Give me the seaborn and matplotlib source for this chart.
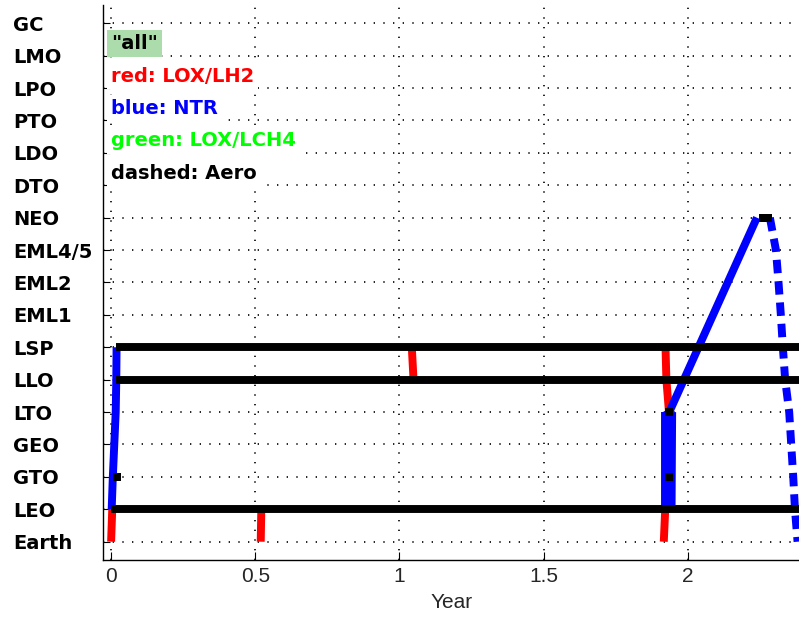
import matplotlib
matplotlib.use("Agg")
import matplotlib.pyplot as plt
import seaborn as sns

# ---------------- data ----------------
levels = ["Earth", "LEO", "GTO", "GEO", "LTO", "LLO", "LSP", "EML1", "EML2",
          "EML4/5", "NEO", "DTO", "LDO", "PTO", "LPO", "LMO", "GC"]
x_ticks = [0, 0.5, 1, 1.5, 2]
x_tick_labels = ["0", "0.5", "1", "1.5", "2"]

# LOX/LH2 legs (red)
red1_x = [0.000, 0.004]; red1_y = ["Earth", "LEO"]
red2_x = [0.519, 0.521]; red2_y = ["Earth", "LEO"]
red3_x = [1.049, 1.043]; red3_y = ["LLO", "LSP"]
red4_x = [1.917, 1.922]; red4_y = ["Earth", "LEO"]
red5_x = [1.923, 1.926, 1.935]; red5_y = ["LSP", "LLO", "LTO"]

# NTR legs (blue)
blue1_x = [0.002, 0.006, 0.011, 0.016, 0.018, 0.019]
blue1_y = ["LEO", "GTO", "GEO", "LTO", "LLO", "LSP"]
blue2_x = [1.920, 1.920]; blue2_y = ["LEO", "LTO"]
blue3_x = [1.944, 1.946]; blue3_y = ["LEO", "LTO"]
blue4_x = [1.936, 2.240]; blue4_y = ["LTO", "NEO"]

# NTR aero return (blue dashed)
aero_x = [2.285, 2.306, 2.315, 2.323, 2.330, 2.338, 2.352, 2.359, 2.366, 2.372, 2.381]
aero_y = ["NEO", "EML4/5", "EML2", "EML1", "LSP", "LLO", "LTO", "GEO", "GTO", "LEO", "Earth"]

# infrastructure stays (black)
stay_y = ["LEO", "LLO", "LSP"]
stay_x0 = [-0.001, 0.017, 0.017]
stay_x1 = [2.6, 2.6, 2.6]

# events (black squares)
mark_x = [0.020, 1.936, 1.936, 2.262, 2.279]
mark_y = ["GTO", "GTO", "LTO", "NEO", "NEO"]

# legend texts
legend_labels = ['"all"', "red: LOX/LH2", "blue: NTR", "green: LOX/LCH4", "dashed: Aero"]
legend_colors = ["black", "#ff0000", "#0000ff", "#00ff00", "black"]
legend_rows = ["LMO", "LPO", "PTO", "LDO", "DTO"]
legend_bg = ["#acdcac", "white", "white", "white", "white"]

# ---------------- plot ----------------
sns.set_theme(style="white")
plt.rcParams["font.family"] = ["DejaVu Sans"]

fig = plt.figure(figsize=(7.99, 6.19), dpi=100)
ax = fig.add_axes([0.1293, 0.0953, 0.8707, 0.8967])

idx = {name: i for i, name in enumerate(levels)}
LW = 5.7


def seg(xs, ys, color, z, **kw):
    sns.lineplot(x=xs, y=[idx[v] for v in ys], sort=False, estimator=None,
                 color=color, linewidth=LW, ax=ax, zorder=z,
                 solid_capstyle="butt", **kw)


for xs, ys in [(red1_x, red1_y), (red2_x, red2_y), (red3_x, red3_y),
               (red4_x, red4_y), (red5_x, red5_y)]:
    seg(xs, ys, "#ff0000", 2)

for xs, ys in [(blue1_x, blue1_y), (blue2_x, blue2_y), (blue3_x, blue3_y),
               (blue4_x, blue4_y)]:
    seg(xs, ys, "#0000ff", 3)

seg(aero_x, aero_y, "#0000ff", 3, linestyle=(0, (1.7, 1.0)), dash_capstyle="butt")

for y, x0, x1 in zip(stay_y, stay_x0, stay_x1):
    seg([x0, x1], [y, y], "black", 4)

sns.scatterplot(x=mark_x, y=[idx[v] for v in mark_y], marker="s", s=36,
                color="black", edgecolor="none", ax=ax, zorder=5)

for lab, col, row, bg in zip(legend_labels, legend_colors, legend_rows, legend_bg):
    ax.text(0.0, idx[row] + 0.2, lab, color=col, fontsize=14, fontweight="bold",
            ha="left", va="baseline", zorder=6,
            bbox=dict(boxstyle="square,pad=0.2", facecolor=bg, edgecolor="none"))

ax.set_xlim(-0.027, 2.386)
ax.set_ylim(-0.565, 16.565)

ax.set_yticks(range(len(levels)), levels, fontsize=14, fontweight="bold", ha="left")
ax.set_xticks(x_ticks, x_tick_labels, fontsize=15,
              family=["Liberation Sans", "DejaVu Sans"], color="#262626")
ax.tick_params(axis="y", direction="in", length=5, width=0.8, pad=65, colors="black",
               left=True)
ax.tick_params(axis="x", direction="in", length=6, width=0.8, pad=5, color="black",
               bottom=True)
ax.set_xlabel("Year", fontsize=15, family=["Liberation Sans", "DejaVu Sans"],
              color="#262626", labelpad=5)
ax.set_ylabel("")

ax.set_axisbelow(True)
ax.grid(True, linestyle=(0, (0.8, 5.0)), color="black", linewidth=1.2)

sns.despine(ax=ax)
for side in ["left", "bottom"]:
    ax.spines[side].set_color("black")
    ax.spines[side].set_linewidth(1.0)

fig.savefig("out.png", dpi=100)
